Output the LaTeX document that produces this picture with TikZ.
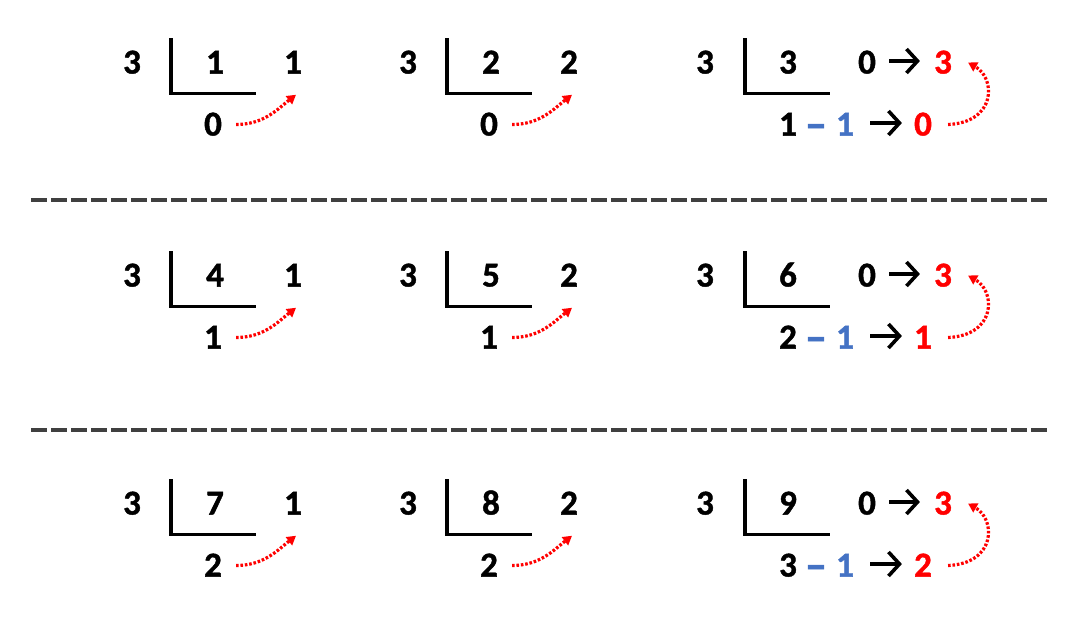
\documentclass[tikz,border=0pt]{standalone}
\usepackage{fontspec}
\setmainfont{Carlito}[BoldFont={Carlito Bold}, BoldFeatures={FakeBold=1.2}]
\usetikzlibrary{arrows.meta}
\definecolor{myred}{HTML}{FF0000}
\definecolor{myblue}{HTML}{4472C4}
\definecolor{mygray}{HTML}{404040}
\tikzset{
  num/.style={font=\fontsize{35}{35}\selectfont\bfseries, inner sep=0pt, text height=22.1pt, text depth=0pt, anchor=center},
  redtxt/.style={num, text=myred},
  bluetxt/.style={num, text=myblue},
  dashtxt/.style={num, text=myblue, font=\fontsize{44}{44}\selectfont\bfseries},
  bracket/.style={line width=3.2pt, line cap=rect},
  hop/.style={myred, line width=3.2pt, dash pattern=on 2.6pt off 1.8pt, -{Triangle[length=9pt,width=10pt]}},
  gives/.style={line width=3.6pt, -{Straight Barb[length=11pt,width=24pt,line width=3.6pt]}},
  sepline/.style={mygray, line width=4pt, dash pattern=on 15.7pt off 4.3pt}
}
% #1 prefix, #2 x offset, #3 y offset, #4 dividend, #5 quotient, #6 remainder
\newcommand\simplediv[6]{%
  \node[num] (#1s) at (#2+132,#3+62.5) {3};
  \node[num] (#1d) at (#2+215,#3+62.5) {#4};
  \node[num] (#1q) at (#2+293,#3+62.5) {#5};
  \node[num] (#1r) at (#2+213,#3+124.5) {#6};
  \coordinate (#1t) at (#2+171,#3+40);
  \coordinate (#1c) at (#2+171,#3+93.5);
  \coordinate (#1e) at (#2+254,#3+93.5);
  \draw[bracket] (#1t) -- (#1c) -- (#1e);
  \draw[hop] ([xshift=14pt]#1r.east) .. controls +(28pt,0pt) and +(-18pt,-14pt) .. ([xshift=3pt,yshift=-21pt]#1q.south);
}
% #1 prefix, #2 y offset, #3 dividend, #4 first digit of bottom row, #5 red result
\newcommand\thirddiv[5]{%
  \node[num] (#1s) at (705,#2+62.5) {3};
  \node[num] (#1d) at (788,#2+62.5) {#3};
  \node[num] (#1z) at (867,#2+62.5) {0};
  \node[redtxt] (#1q) at (943,#2+62.5) {3};
  \coordinate (#1t) at (745,#2+40);
  \coordinate (#1c) at (745,#2+93.5);
  \coordinate (#1e) at (828,#2+93.5);
  \draw[bracket] (#1t) -- (#1c) -- (#1e);
  \draw[gives] ([xshift=13pt,yshift=1.5pt]#1z.east) -- ([xshift=-14pt,yshift=1.5pt]#1q.west);
  \node[num] (#1a) at (788,#2+124.5) {#4};
  \node[dashtxt] (#1m) at (816,#2+127.5) {–};
  \node[bluetxt] (#1b) at (845,#2+124.5) {1};
  \node[redtxt] (#1r) at (923,#2+124.5) {#5};
  \draw[gives] ([xshift=16pt,yshift=1.5pt]#1b.east) -- ([xshift=-12pt,yshift=1.5pt]#1r.west);
  \draw[hop] ([xshift=16pt]#1r.east) .. controls +(48pt,2pt) and +(28pt,-16pt) .. ([xshift=16pt]#1q.east);
}
\begin{document}
\begin{tikzpicture}[x=1pt,y=-1pt]
\useasboundingbox (0,0) rectangle (1078,618);
\simplediv{a}{0}{0}{1}{1}{0}
\simplediv{b}{276}{0}{2}{2}{0}
\thirddiv{c}{0}{3}{1}{0}
\simplediv{d}{0}{213}{4}{1}{1}
\simplediv{e}{276}{213}{5}{2}{1}
\thirddiv{f}{213}{6}{2}{1}
\simplediv{g}{0}{441}{7}{1}{2}
\simplediv{h}{276}{441}{8}{2}{2}
\thirddiv{i}{441}{9}{3}{2}
\coordinate (s1a) at (31,200);
\coordinate (s1b) at (1047,200);
\coordinate (s2a) at (31,430);
\coordinate (s2b) at (1047,430);
\draw[sepline] (s1a) -- (s1b);
\draw[sepline] (s2a) -- (s2b);
\end{tikzpicture}
\end{document}
